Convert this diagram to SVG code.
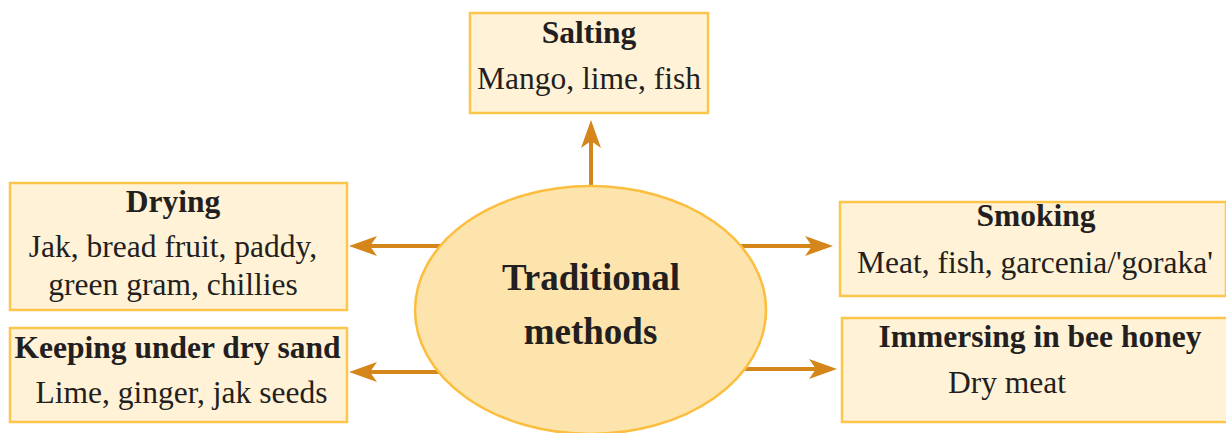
<svg xmlns="http://www.w3.org/2000/svg" width="1226" height="433" viewBox="0 0 1226 433">
<style>
.box{fill:#fff2d6;stroke:#fcc54c;stroke-width:2.5}
.hub{fill:#fde4ad;stroke:#fbbe3e;stroke-width:2.5}
.t{font-family:"Liberation Serif","Times New Roman",serif;font-size:31.5px;fill:#231f20;text-anchor:middle}
.b{font-weight:bold}
.big{font-size:37px}
.c{stroke:#d4861a;stroke-width:4;fill:none}
</style>
<defs>
<marker id="ah" markerUnits="userSpaceOnUse" markerWidth="30" markerHeight="24" viewBox="0 -12 30 24" refX="10" refY="0" orient="auto">
<path d="M28,0 L0,-10 L7,0 L0,10 Z" fill="#d4861a"/>
</marker>
</defs>
<g id="connectors">
<line class="c" x1="591" y1="200" x2="591" y2="138" marker-end="url(#ah)"/>
<line class="c" x1="460" y1="246" x2="367" y2="246" marker-end="url(#ah)"/>
<line class="c" x1="460" y1="372" x2="367" y2="372" marker-end="url(#ah)"/>
<line class="c" x1="720" y1="246" x2="815" y2="246" marker-end="url(#ah)"/>
<line class="c" x1="720" y1="369" x2="819" y2="369" marker-end="url(#ah)"/>
</g>
<g id="hub">
<ellipse class="hub" cx="590.5" cy="310" rx="175.5" ry="124"/>
<text class="t b big" x="591" y="290">Traditional</text>
<text class="t b big" x="590.5" y="344">methods</text>
</g>
<g id="salting">
<rect class="box" x="470" y="13" width="238" height="100"/>
<text class="t b" x="589" y="43">Salting</text>
<text class="t" x="589" y="89">Mango, lime, fish</text>
</g>
<g id="drying">
<rect class="box" x="10" y="183" width="337" height="127"/>
<text class="t b" x="173" y="212">Drying</text>
<text class="t" x="173" y="257">Jak, bread fruit, paddy,</text>
<text class="t" x="173" y="295">green gram, chillies</text>
</g>
<g id="sand">
<rect class="box" x="10" y="328" width="337" height="94"/>
<text class="t b" x="177.5" y="358">Keeping under dry sand</text>
<text class="t" x="181.5" y="403">Lime, ginger, jak seeds</text>
</g>
<g id="smoking">
<rect class="box" x="840" y="202" width="386" height="94"/>
<text class="t b" x="1036" y="226">Smoking</text>
<text class="t" x="1035" y="273">Meat, fish, garcenia/'goraka'</text>
</g>
<g id="honey">
<rect class="box" x="842" y="318" width="386" height="104"/>
<text class="t b" x="1040" y="347">Immersing in bee honey</text>
<text class="t" x="1007" y="393">Dry meat</text>
</g>
</svg>
